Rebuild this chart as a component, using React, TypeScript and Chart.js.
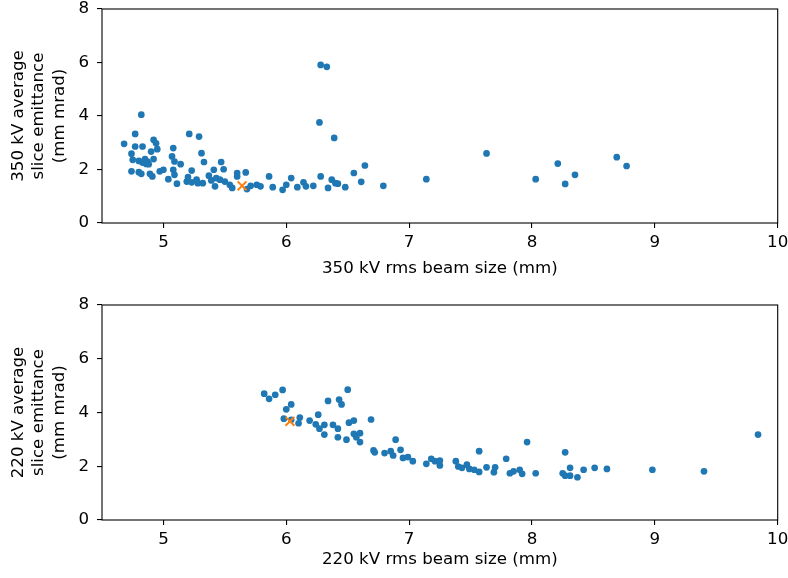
import React, { useEffect, useRef } from "react";
import { Chart, registerables } from "chart.js";

Chart.register(...registerables);

// ---- Data ----
const xTicks = [5, 6, 7, 8, 9, 10];
const yTicks = [0, 2, 4, 6, 8];

const x350 = [
  4.82, 4.68, 4.77, 4.77, 4.83, 4.92, 4.94, 4.95, 4.90, 4.74, 4.75, 4.80, 4.85, 4.86, 4.83, 4.92,
  4.87, 4.88, 4.74, 4.80, 4.82, 4.89, 4.91, 4.97, 5.00, 5.08, 5.07, 5.09, 5.14, 5.08, 5.09, 5.04,
  5.11, 5.21, 5.29, 5.31, 5.33, 5.23, 5.20, 5.19, 5.23, 5.27, 5.28, 5.32, 5.41, 5.37, 5.39, 5.43,
  5.42, 5.47, 5.49, 5.46, 5.50, 5.54, 5.56, 5.60, 5.60, 5.67, 5.71, 5.68, 5.76, 5.79, 5.86, 5.89,
  5.97, 6.00, 6.04, 6.09, 6.14, 6.16, 6.22, 6.28, 6.34, 6.37, 6.40, 6.42, 6.48, 6.55, 6.64, 6.61,
  6.79, 6.28, 6.33, 6.27, 6.39, 7.14, 7.63, 8.03, 8.21, 8.27, 8.35, 8.69, 8.77,
];
const y350 = [
  4.05, 2.96, 3.33, 2.86, 2.86, 3.11, 2.98, 2.76, 2.67, 2.59, 2.36, 2.32, 2.39, 2.21, 2.26, 2.39,
  2.30, 2.20, 1.93, 1.90, 1.84, 1.84, 1.74, 1.93, 1.99, 2.80, 2.49, 2.30, 2.20, 1.99, 1.80, 1.64,
  1.47, 3.33, 3.23, 2.61, 2.28, 1.96, 1.72, 1.55, 1.52, 1.62, 1.49, 1.49, 1.99, 1.77, 1.59, 1.68,
  1.37, 2.28, 2.01, 1.62, 1.55, 1.43, 1.31, 1.87, 1.74, 1.89, 1.39, 1.27, 1.43, 1.37, 1.74, 1.34,
  1.24, 1.43, 1.68, 1.34, 1.52, 1.37, 1.39, 1.74, 1.31, 1.62, 1.49, 1.47, 1.34, 1.87, 2.15, 1.54,
  1.39, 5.91, 5.84, 3.76, 3.18, 1.64, 2.60, 1.64, 2.22, 1.46, 1.80, 2.46, 2.13,
];
const best350 = [5.64, 1.39];

const x220 = [
  5.82, 5.86, 5.91, 5.97, 6.04, 6.00, 5.98, 6.04, 6.11, 6.10, 6.19, 6.26, 6.24, 6.27, 6.31, 6.31,
  6.34, 6.38, 6.42, 6.42, 6.43, 6.45, 6.49, 6.50, 6.51, 6.55, 6.55, 6.57, 6.60, 6.60, 6.69, 6.71,
  6.72, 6.80, 6.85, 6.87, 6.89, 6.93, 6.95, 6.99, 7.03, 7.14, 7.18, 7.21, 7.25, 7.25, 7.38, 7.40,
  7.43, 7.47, 7.49, 7.53, 7.57, 7.57, 7.63, 7.69, 7.70, 7.79, 7.82, 7.85, 7.90, 7.92, 7.96, 8.03,
  8.25, 8.27, 8.27, 8.31, 8.31, 8.37, 8.42, 8.51, 8.61, 8.98, 9.40, 9.84,
];
const y220 = [
  4.70, 4.51, 4.66, 4.84, 4.30, 4.12, 3.77, 3.73, 3.81, 3.60, 3.70, 3.92, 3.56, 3.40, 3.54, 3.18,
  4.43, 3.54, 3.40, 3.08, 4.48, 4.30, 2.99, 4.85, 3.62, 3.70, 3.21, 3.08, 3.23, 2.90, 3.74, 2.59,
  2.52, 2.49, 2.56, 2.40, 2.99, 2.61, 2.31, 2.34, 2.19, 2.09, 2.28, 2.19, 2.21, 2.03, 2.19, 1.99,
  1.94, 2.06, 1.90, 1.87, 2.56, 1.79, 1.96, 1.78, 1.96, 2.28, 1.74, 1.81, 1.87, 1.72, 2.90, 1.74,
  1.74, 2.52, 1.65, 1.94, 1.65, 1.59, 1.87, 1.94, 1.90, 1.87, 1.81, 3.18,
];
const best220 = [6.03, 3.67];

const FONT = "'DejaVu Sans', 'Liberation Sans', sans-serif";
const FS = 16.67;

const framePlugin = {
  id: "frame",
  afterDraw(chart: any) {
    const { ctx, chartArea } = chart;
    ctx.save();
    ctx.strokeStyle = "#000";
    ctx.lineWidth = 1.1;
    ctx.strokeRect(chartArea.left, chartArea.top, chartArea.right - chartArea.left, chartArea.bottom - chartArea.top);
    ctx.restore();
  },
};

function makeConfig(
  xs: number[],
  ys: number[],
  best: number[],
  xTitle: string,
  yTitle: string[],
  padTop: number,
  xAxisH: number,
  xTitlePad: number
): any {
  return {
    type: "scatter",
    data: {
      datasets: [
        {
          data: [{ x: best[0], y: best[1] }],
          pointStyle: "crossRot",
          pointRadius: 6.3,
          borderColor: "#ff7f0e",
          backgroundColor: "#ff7f0e",
          borderWidth: 2,
        },
        {
          data: xs.map((x, i) => ({ x, y: ys[i] })),
          pointStyle: "circle",
          pointRadius: 3.35,
          borderWidth: 0,
          backgroundColor: "#1f77b4",
          borderColor: "#1f77b4",
        },
      ],
    },
    options: {
      animation: false,
      responsive: false,
      devicePixelRatio: 1,
      layout: { padding: { top: padTop, right: 10.3, left: 0, bottom: 0 } },
      plugins: { legend: { display: false }, tooltip: { enabled: false } },
      scales: {
        x: {
          type: "linear",
          min: 4.5,
          max: 10,
          afterBuildTicks: (s: any) => {
            s.ticks = xTicks.map((v) => ({ value: v }));
          },
          afterFit: (s: any) => {
            s.height = xAxisH;
            s.paddingLeft = 0;
            s.paddingRight = 0;
          },
          grid: { drawOnChartArea: false, drawTicks: true, tickLength: 5, color: "#000", lineWidth: 1.1 },
          border: { display: false },
          ticks: { color: "#000", font: { family: FONT, size: FS }, padding: 5, maxRotation: 0 },
          title: {
            display: true,
            text: xTitle,
            color: "#000",
            font: { family: FONT, size: FS, lineHeight: 1.2 },
            padding: { top: 0, bottom: xTitlePad },
          },
        },
        y: {
          type: "linear",
          min: 0,
          max: 8,
          afterBuildTicks: (s: any) => {
            s.ticks = yTicks.map((v) => ({ value: v }));
          },
          afterFit: (s: any) => {
            s.width = 102;
            s.paddingTop = 0;
            s.paddingBottom = 0;
          },
          grid: { drawOnChartArea: false, drawTicks: true, tickLength: 5, color: "#000", lineWidth: 1.1 },
          border: { display: false },
          ticks: { color: "#000", font: { family: FONT, size: FS }, padding: 8 },
          title: {
            display: true,
            text: yTitle,
            color: "#000",
            font: { family: FONT, size: FS, lineHeight: "20.5px" },
            padding: { top: 8, bottom: 0 },
          },
        },
      },
    },
    plugins: [framePlugin],
  };
}

function ScatterPanel(props: { top: number; cfg: () => any }) {
  const ref = useRef<HTMLCanvasElement | null>(null);
  useEffect(() => {
    if (!ref.current) return;
    const chart = new Chart(ref.current, props.cfg());
    return () => chart.destroy();
  }, []);
  return (
    <canvas
      ref={ref}
      width={788}
      height={289}
      style={{ position: "absolute", left: 0, top: props.top, width: 788, height: 289, display: "block" }}
    />
  );
}

export default function App() {
  useEffect(() => {
    document.body.style.margin = "0";
    document.body.style.background = "#fff";
  }, []);
  return (
    <div style={{ position: "absolute", left: 0, top: 0, width: 788, height: 578, background: "#fff" }}>
      <ScatterPanel
        top={0}
        cfg={() =>
          makeConfig(x350, y350, best350, "350 kV rms beam size (mm)", ["350 kV average", "slice emittance", "(mm mrad)"], 9, 66, 10)
        }
      />
      <ScatterPanel
        top={289}
        cfg={() =>
          makeConfig(x220, y220, best220, "220 kV rms beam size (mm)", ["220 kV average", "slice emittance", "(mm mrad)"], 16, 58, 8)
        }
      />
    </div>
  );
}
